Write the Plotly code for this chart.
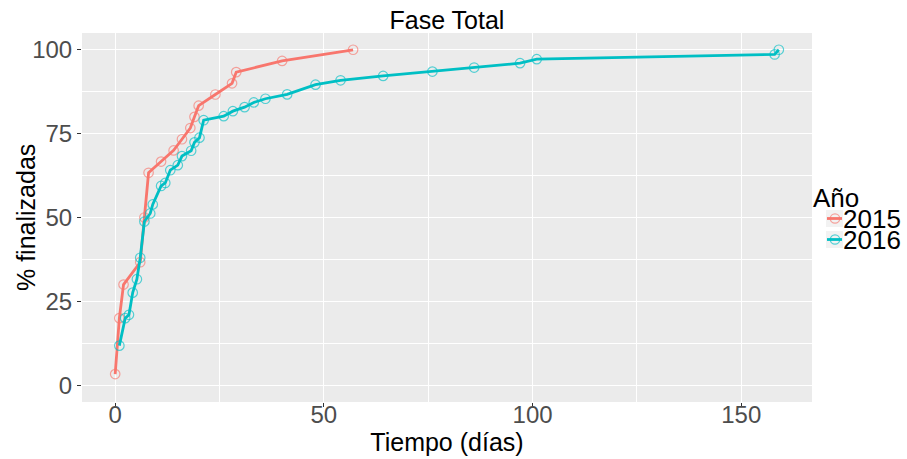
import plotly.graph_objects as go

# 2015 series
t_2015 = [0, 1, 2, 6, 7, 8, 11, 14, 16, 18, 19, 20, 24, 28, 29, 40, 57]
p_2015 = [3.33, 20.0, 30.0, 36.67, 50.0, 63.33, 66.67, 70.0, 73.33, 76.67,
          80.0, 83.33, 86.67, 90.0, 93.33, 96.67, 100.0]

# 2016 series
t_2016 = [1, 2.4, 3.3, 4.2, 5.2, 6, 7, 8.4, 9, 11, 12, 13.2, 15, 16, 18.2, 19,
          20.2, 21.2, 26, 28.2, 31, 33.2, 36, 41.2, 48, 54, 64.2, 76, 86, 97, 101, 158, 159]
p_2016 = [11.8, 20.0, 21.0, 27.6, 31.6, 38.0, 48.8, 51.2, 53.9, 59.4, 60.3, 64.1,
          65.6, 68.3, 69.9, 72.4, 73.8, 79.0, 80.2, 81.7, 82.9, 84.3, 85.4, 86.7,
          89.6, 90.9, 92.2, 93.5, 94.7, 96.0, 97.2, 98.6, 100.0]

x_ticks = [0, 50, 100, 150]
y_ticks = [0, 25, 50, 75, 100]

title = "Fase Total"
x_title = "Tiempo (días)"
y_title = "% finalizadas"
legend_title = "Año"
series_names = ["2015", "2016"]

col15 = "#F8766D"
col16 = "#00BFC4"
mcol15 = "rgba(248,118,109,0.65)"
mcol16 = "rgba(0,191,196,0.65)"
FONT = "Liberation Sans, Arial, sans-serif"

# plot area in pixels
L, R, T, B = 82, 95, 33, 57
W, H = 907, 459
PW, PH = W - L - R, H - T - B

def px_x(px):
    return (px - L) / PW

def px_y(py):
    return (H - B - py) / PH

fig = go.Figure()
for name, t, p, c, mc in [(series_names[0], t_2015, p_2015, col15, mcol15),
                          (series_names[1], t_2016, p_2016, col16, mcol16)]:
    fig.add_trace(go.Scatter(
        x=t, y=p, name=name, mode="lines+markers", showlegend=False,
        line=dict(color=c, width=2.8),
        marker=dict(symbol="circle-open", size=9.5, color=mc, line=dict(width=1.2, color=mc)),
    ))

# y-axis title and manual ggplot-style legend
annotations = [
    dict(text=y_title, xref="paper", yref="paper", x=px_x(26), y=px_y(218),
         xanchor="center", yanchor="middle", textangle=-90, showarrow=False,
         font=dict(size=25, color="#000000", family=FONT)),
    dict(text=legend_title, xref="paper", yref="paper", x=px_x(811), y=px_y(198),
         xanchor="left", yanchor="middle", showarrow=False,
         font=dict(size=26, color="#000000", family=FONT)),
]
shapes = []
for name, c, mc, cy in [(series_names[0], col15, mcol15, 219), (series_names[1], col16, mcol16, 240)]:
    annotations.append(dict(text=name, xref="paper", yref="paper", x=px_x(841), y=px_y(cy),
                            xanchor="left", yanchor="middle", showarrow=False,
                            font=dict(size=26, color="#000000", family=FONT)))
    shapes.append(dict(type="rect", xref="paper", yref="paper",
                       x0=px_x(826), x1=px_x(843), y0=px_y(cy - 9), y1=px_y(cy + 8),
                       fillcolor="#F2F2F2", line=dict(width=0), layer="below"))
    shapes.append(dict(type="line", xref="paper", yref="paper",
                       x0=px_x(827), x1=px_x(842), y0=px_y(cy - 0.5), y1=px_y(cy - 0.5),
                       line=dict(color=c, width=2.8)))
    shapes.append(dict(type="circle", xref="paper", yref="paper",
                       x0=px_x(830.3), x1=px_x(839.7), y0=px_y(cy - 5.2), y1=px_y(cy + 4.2),
                       line=dict(color=mc, width=1.2)))

fig.update_layout(
    width=W, height=H,
    margin=dict(l=L, r=R, t=T, b=B, autoexpand=False),
    paper_bgcolor="white",
    plot_bgcolor="#EBEBEB",
    font=dict(family=FONT, color="#000000"),
    title=dict(text=title, x=px_x(447) * PW / W + L / W, xanchor="center", y=0.955, yanchor="middle",
               font=dict(size=25, color="#000000", family=FONT)),
    showlegend=False,
    annotations=annotations,
    shapes=shapes,
)

fig.update_xaxes(
    range=[-7.95, 166.95], tickvals=x_ticks, ticktext=[str(v) for v in x_ticks],
    showgrid=True, gridcolor="white", gridwidth=1.1, zeroline=False,
    minor=dict(showgrid=True, gridcolor="white", gridwidth=0.5, tickvals=[25, 75, 125], ticks=""),
    ticks="outside", ticklen=4, tickcolor="#333333", tickwidth=1,
    tickfont=dict(size=24, color="#4D4D4D", family=FONT),
    ticklabelstandoff=-13,
    title=dict(text=x_title, font=dict(size=25, color="#000000"), standoff=5),
    showline=False, automargin=False,
)
fig.update_yaxes(
    range=[-5, 105], tickvals=y_ticks, ticktext=[str(v) for v in y_ticks],
    showgrid=True, gridcolor="white", gridwidth=1.1, zeroline=False,
    minor=dict(showgrid=True, gridcolor="white", gridwidth=0.5, tickvals=[12.5, 37.5, 62.5, 87.5], ticks=""),
    ticks="outside", ticklen=4, tickcolor="#333333", tickwidth=1,
    tickfont=dict(size=24, color="#4D4D4D", family=FONT),
    showline=False, automargin=False,
)

fig.write_html("out.html", post_script="document.body.style.margin='0px';",
               config={"displayModeBar": False})
